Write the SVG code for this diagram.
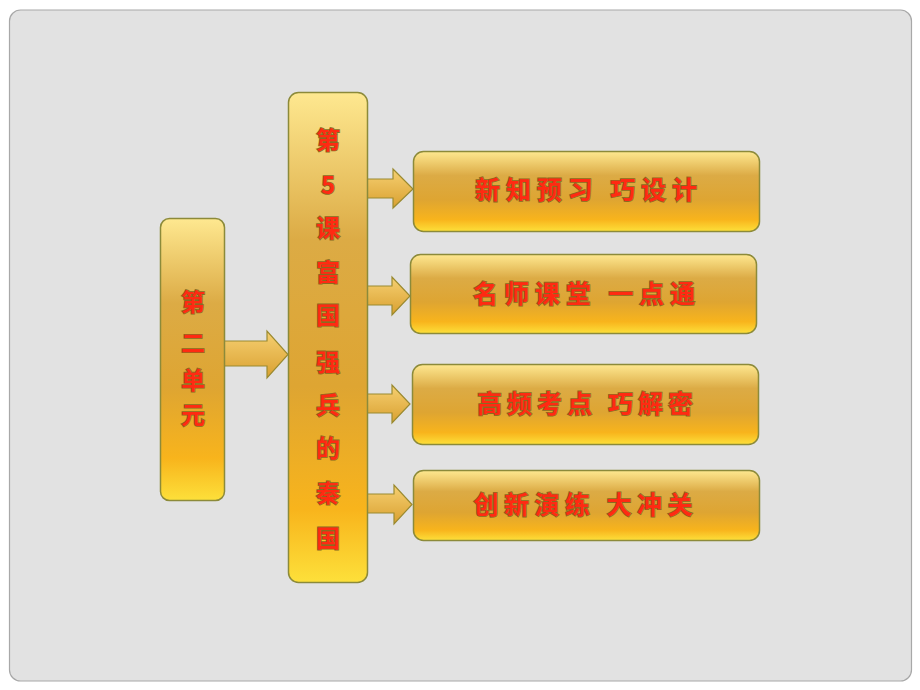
<svg xmlns="http://www.w3.org/2000/svg" width="920" height="690" viewBox="0 0 920 690">
<defs>
<linearGradient id="gold" x1="0" y1="0" x2="0" y2="1">
<stop offset="0" stop-color="#fee890"/>
<stop offset="0.3" stop-color="#dcab45"/>
<stop offset="0.6" stop-color="#dea532"/>
<stop offset="0.85" stop-color="#f8b41c"/>
<stop offset="1" stop-color="#fde03a"/>
</linearGradient>
<linearGradient id="arrowg" x1="0" y1="0" x2="0" y2="1">
<stop offset="0" stop-color="#f6d072"/>
<stop offset="1" stop-color="#d9a030"/>
</linearGradient>
<style>
.box{fill:url(#gold);stroke:#8c8a3a;stroke-width:1.5}
.arr{fill:url(#arrowg);stroke:#9a8a30;stroke-width:1.2}
.t{font-family:"Noto Sans CJK SC","Noto Sans CJK JP",sans-serif;font-weight:bold;fill:#ff2a12;stroke:#8a6a20;stroke-width:1.6;paint-order:stroke;text-anchor:middle}
.h{font-size:25px}
.v{font-size:24px}
</style>
</defs>
<rect x="0" y="0" width="920" height="690" fill="#ffffff"/>
<rect x="9.5" y="10" width="902" height="671" rx="11" fill="#e2e2e2" stroke="#a8a8a8" stroke-width="1.2"/>
<g id="connectors">
<path class="arr" d="M224,341 H267 V331 L288,354.5 L267,378 V366 H224 Z"/>
<path class="arr" d="M367,179 H393 V169 L413,189 L393,208 V198 H367 Z"/>
<path class="arr" d="M367,286 H392 V277 L410,296 L392,315 V305 H367 Z"/>
<path class="arr" d="M366,394 H392 V385 L410,404 L392,423 V413 H366 Z"/>
<path class="arr" d="M367,494 H394 V485 L412,504.5 L394,524 V513 H367 Z"/>
</g>
<g id="unit">
<rect class="box" x="160.5" y="218.5" width="64" height="282" rx="9"/>
<text class="t v" x="193" y="311">第</text>
<text class="t v" x="193" y="352">二</text>
<text class="t v" x="193" y="389">单</text>
<text class="t v" x="193" y="424">元</text>
</g>
<g id="lesson">
<rect class="box" x="288.5" y="92.5" width="79" height="490" rx="10"/>
<text class="t v" x="328" y="149">第</text>
<text class="t v" x="328" y="194">5</text>
<text class="t v" x="328" y="237">课</text>
<text class="t v" x="328" y="281">富</text>
<text class="t v" x="328" y="324">国</text>
<text class="t v" x="328" y="371">强</text>
<text class="t v" x="328" y="414">兵</text>
<text class="t v" x="328" y="457">的</text>
<text class="t v" x="328" y="502">秦</text>
<text class="t v" x="328" y="547">国</text>
</g>
<g id="item1">
<rect class="box" x="413.5" y="151.5" width="346" height="80" rx="10"/>
<text class="t h" x="586" y="199" textLength="222" lengthAdjust="spacing">新知预习 巧设计</text>
</g>
<g id="item2">
<rect class="box" x="410.5" y="254.5" width="346" height="79" rx="10"/>
<text class="t h" x="584" y="303" textLength="222" lengthAdjust="spacing">名师课堂 一点通</text>
</g>
<g id="item3">
<rect class="box" x="412.5" y="364.5" width="346" height="80" rx="10"/>
<text class="t h" x="585" y="413" textLength="216" lengthAdjust="spacing">高频考点 巧解密</text>
</g>
<g id="item4">
<rect class="box" x="413.5" y="470.5" width="346" height="70" rx="10"/>
<text class="t h" x="583" y="514" textLength="219" lengthAdjust="spacing">创新演练 大冲关</text>
</g>
</svg>
